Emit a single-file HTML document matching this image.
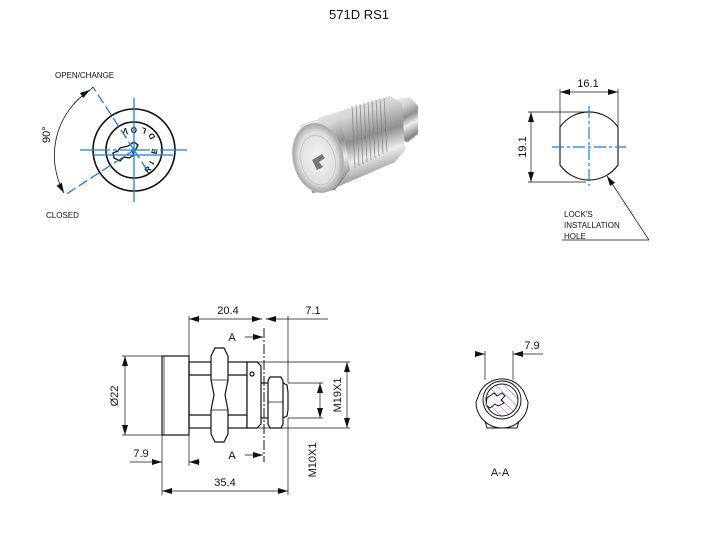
<!DOCTYPE html>
<html><head><meta charset="utf-8"><style>
html,body{margin:0;padding:0;background:#fff}
svg{display:block}
text{font-family:"Liberation Sans",sans-serif;fill:#111}
</style></head><body>
<svg width="720" height="540" viewBox="0 0 720 540" xmlns="http://www.w3.org/2000/svg">
<defs>
<marker id="a" viewBox="0 0 10 6" refX="10" refY="3" markerWidth="10" markerHeight="6" orient="auto-start-reverse" markerUnits="userSpaceOnUse"><path d="M0,0L10,3L0,6z" fill="#111"/></marker>
<linearGradient id="g1" x1="0" y1="0" x2="0.3" y2="1">
<stop offset="0" stop-color="#f6f6f6"/><stop offset="0.3" stop-color="#d4d4d4"/><stop offset="0.55" stop-color="#8f8f8f"/><stop offset="0.75" stop-color="#ececec"/><stop offset="1" stop-color="#8a8a8a"/></linearGradient>
<radialGradient id="g2" cx="0.5" cy="0.5" r="0.5"><stop offset="0" stop-color="#f4f4f4"/><stop offset="0.75" stop-color="#dedede"/><stop offset="1" stop-color="#a5a5a5"/></radialGradient>
<pattern id="h" width="6" height="6" patternUnits="userSpaceOnUse" patternTransform="rotate(-45)"><line x1="0" y1="0" x2="0" y2="6" stroke="#9b4be0" stroke-width="1"/></pattern>
</defs>

<text x="359" y="19" font-size="13" text-anchor="middle">571D RS1</text>

<!-- front view -->
<g fill="none" stroke="#111" stroke-width="1.6">
<circle cx="134" cy="150" r="41"/>
<circle cx="134" cy="150" r="28"/>
<path d="M128,146 l6,-4 4,3 -2,4 -4,2 2,4 -5,3 -5,-1 -4,4 -6,-3 -1,-5 5,-2 2,-3z" stroke-width="1.3"/>
</g>
<g font-size="8" font-weight="bold" fill="#111">
<text x="124" y="132" transform="rotate(180 126 130)">V</text>
<text x="133" y="131" transform="rotate(180 135 129)">O</text>
<text x="142" y="134" transform="rotate(200 144 131)">L</text>
<text x="150" y="140" transform="rotate(240 152 137)">D</text>
<text x="152" y="155" transform="rotate(-80 154 152)">E</text>
<text x="150" y="165" transform="rotate(-60 152 162)">I</text>
<text x="145" y="173" transform="rotate(-45 147 170)">R</text>
</g>
<g stroke="#1a7fe0" stroke-width="1.3" fill="none">
<line x1="134" y1="98" x2="134" y2="202"/>
<line x1="80" y1="150" x2="187" y2="150" stroke-dasharray="30,3,4,3"/>
<line x1="93" y1="155" x2="173" y2="155"/>
<line x1="134" y1="150" x2="93" y2="87" stroke-dasharray="10,4"/>
<line x1="134" y1="150" x2="65" y2="195" stroke-dasharray="10,4"/>
<line x1="134" y1="150" x2="147" y2="170" stroke-dasharray="10,4"/>
</g>
<path d="M90,90 A78,78 0 0 0 64,193" fill="none" stroke="#111" stroke-width="0.8" marker-start="url(#a)" marker-end="url(#a)"/>
<line x1="90" y1="90" x2="93" y2="87" stroke="#111" stroke-width="0.8"/>
<text x="55" y="78" font-size="8">OPEN/CHANGE</text>
<text x="46" y="218" font-size="8">CLOSED</text>
<text x="0" y="0" font-size="11" transform="translate(50,143) rotate(-90)">90°</text>

<!-- photo -->
<g>
<path d="M392,100 L410,97 L418,106 L418,134 L408,142 L400,140z" fill="url(#g1)"/>
<path d="M318,118 L390,96 L402,104 L405,150 L395,162 L330,190 Z" fill="url(#g1)"/>
<g stroke="#777" stroke-width="0.6">
<line x1="352" y1="106" x2="355" y2="168"/><line x1="356" y1="105" x2="359" y2="166"/><line x1="360" y1="104" x2="363" y2="164"/><line x1="364" y1="103" x2="367" y2="162"/><line x1="368" y1="102" x2="371" y2="160"/><line x1="372" y1="101" x2="375" y2="158"/><line x1="376" y1="100" x2="379" y2="156"/><line x1="380" y1="99" x2="383" y2="154"/><line x1="384" y1="98" x2="387" y2="152"/>
</g>
<path d="M300,125 L340,112 L350,170 L335,190 L312,193z" fill="url(#g1)"/>
<ellipse cx="318" cy="158" rx="25" ry="35" transform="rotate(-12 318 158)" fill="url(#g2)" stroke="#b5b5b5" stroke-width="0.6"/>
<ellipse cx="318" cy="160" rx="17" ry="25" transform="rotate(-12 318 160)" fill="none" stroke="#bbb" stroke-width="0.6"/>
<path d="M312,160 l10,-6 3,4 -6,4 4,5 -6,3z" fill="#777"/>
</g>

<!-- installation hole -->
<path d="M560,127 A35.5,35.5 0 0 1 618,127 L618,165 A35.5,35.5 0 0 1 560,165 Z" fill="none" stroke="#111" stroke-width="1.1"/>
<g stroke="#1a7fe0" stroke-width="1.2">
<line x1="589" y1="106" x2="589" y2="186" stroke-dasharray="12,3,3,3"/>
<line x1="552" y1="147" x2="626" y2="147" stroke-dasharray="12,3,3,3"/>
</g>
<g stroke="#111" stroke-width="0.7" fill="none">
<line x1="560" y1="89" x2="560" y2="127"/><line x1="618" y1="89" x2="618" y2="127"/>
<line x1="560" y1="92" x2="618" y2="92" marker-start="url(#a)" marker-end="url(#a)"/>
<line x1="528" y1="112" x2="586" y2="112"/><line x1="528" y1="182" x2="586" y2="182"/>
<line x1="531" y1="112" x2="531" y2="182" marker-start="url(#a)" marker-end="url(#a)"/>
<line x1="649" y1="240" x2="607" y2="176" marker-end="url(#a)"/>
<line x1="562" y1="240" x2="649" y2="240"/>
</g>
<text x="588" y="87" font-size="11" text-anchor="middle">16.1</text>
<text x="0" y="0" font-size="11" text-anchor="middle" transform="translate(526,147) rotate(-90)">19.1</text>
<text x="564" y="217" font-size="8">LOCK'S</text>
<text x="564" y="228" font-size="8">INSTALLATION</text>
<text x="564" y="239" font-size="8">HOLE</text>

<!-- side view -->
<g fill="none" stroke="#111" stroke-width="1.2">
<rect x="162" y="356" width="27" height="79"/>
<line x1="164" y1="356" x2="164" y2="435" stroke-width="0.7"/>
<rect x="189" y="362" width="58" height="66"/>
<line x1="189" y1="375" x2="247" y2="375"/><line x1="189" y1="415" x2="247" y2="415"/>
<path d="M215,348 L224,348 L228,356 L228,380 L225,395 L228,410 L228,434 L224,442 L215,442 L211,434 L211,410 L214,395 L211,380 L211,356 Z" fill="#fff"/>
<line x1="211" y1="380" x2="228" y2="380" stroke-width="0.7"/><line x1="211" y1="410" x2="228" y2="410" stroke-width="0.7"/>
<path d="M247,362 L257,362 L261,366 L261,424 L257,428 L247,428 Z" fill="#fff"/>
<circle cx="252" cy="374" r="2"/>
<line x1="261" y1="383" x2="268" y2="383"/><line x1="261" y1="418" x2="268" y2="418"/>
<path d="M270,377 L281,377 L283,381 L283,424 L281,428 L270,428 L268,424 L268,381 Z" fill="#fff"/>
<line x1="268" y1="402" x2="283" y2="402" stroke-width="0.7"/>
<path d="M283,383 L287,385 L288,392 L288,410 L287,416 L283,418" />
</g>
<line x1="264" y1="328" x2="264" y2="462" stroke="#111" stroke-width="1" stroke-dasharray="10,2,2,2"/>
<g stroke="#111" stroke-width="0.7" fill="none">
<line x1="189" y1="316" x2="189" y2="362"/>
<line x1="189" y1="319" x2="262" y2="319" marker-start="url(#a)" marker-end="url(#a)"/>
<line x1="288" y1="316" x2="288" y2="383"/><line x1="288" y1="418" x2="288" y2="495"/>
<line x1="266" y1="319" x2="288" y2="319" marker-start="url(#a)"/>
<line x1="288" y1="319" x2="328" y2="319"/>
<line x1="245" y1="337" x2="263" y2="337" marker-end="url(#a)"/>
<line x1="245" y1="455" x2="263" y2="455" marker-end="url(#a)"/>
<line x1="122" y1="356" x2="162" y2="356"/><line x1="122" y1="435" x2="162" y2="435"/>
<line x1="125" y1="356" x2="125" y2="435" marker-start="url(#a)" marker-end="url(#a)"/>
<line x1="247" y1="362" x2="350" y2="362"/><line x1="247" y1="428" x2="350" y2="428"/>
<line x1="347" y1="362" x2="347" y2="428" marker-start="url(#a)" marker-end="url(#a)"/>
<line x1="288" y1="383" x2="323" y2="383"/><line x1="288" y1="418" x2="323" y2="418"/>
<line x1="320" y1="383" x2="320" y2="418" marker-start="url(#a)" marker-end="url(#a)"/>
<line x1="162" y1="435" x2="162" y2="495"/><line x1="189" y1="428" x2="189" y2="466"/>
<line x1="130" y1="462" x2="162" y2="462" marker-end="url(#a)"/>
<line x1="189" y1="462" x2="200" y2="462" marker-start="url(#a)"/>
<line x1="162" y1="491" x2="288" y2="491" marker-start="url(#a)" marker-end="url(#a)"/>
</g>
<text x="228" y="314" font-size="11" text-anchor="middle">20.4</text>
<text x="313" y="314" font-size="11" text-anchor="middle">7.1</text>
<text x="232" y="341" font-size="11" text-anchor="middle">A</text>
<text x="232" y="459" font-size="11" text-anchor="middle">A</text>
<text x="0" y="0" font-size="11" text-anchor="middle" transform="translate(118,396) rotate(-90)">Ø22</text>
<text x="0" y="0" font-size="11" text-anchor="middle" transform="translate(341,395) rotate(-90)">M19X1</text>
<text x="0" y="0" font-size="11" text-anchor="middle" transform="translate(316,460) rotate(-90)">M10X1</text>
<text x="141" y="457" font-size="11" text-anchor="middle">7.9</text>
<text x="225" y="486" font-size="11" text-anchor="middle">35.4</text>

<!-- A-A section -->
<g fill="none" stroke="#111" stroke-width="1">
<path d="M480,392 A25,25 0 0 1 524,392 L528,402 A25,25 0 0 1 476,402 Z" fill="#fff"/>
<path d="M485,421 L487,428 L517,428 L519,421" />
<circle cx="502" cy="400" r="19"/>
<circle cx="502" cy="400" r="16" fill="url(#h)"/>
<path d="M487,398 l7,-5 3,3 5,-3 3,3 -4,4 3,3 -6,3 -3,-2 -5,4 -4,-3z" fill="#fff" stroke-width="0.9"/>
</g>
<g stroke="#111" stroke-width="0.7" fill="none">
<line x1="485" y1="351" x2="485" y2="380"/><line x1="513" y1="351" x2="513" y2="380"/>
<line x1="475" y1="354" x2="485" y2="354" marker-end="url(#a)"/>
<line x1="543" y1="354" x2="513" y2="354" marker-end="url(#a)"/>
</g>
<text x="532" y="349" font-size="11" text-anchor="middle">7.9</text>
<text x="500" y="476" font-size="11" text-anchor="middle">A-A</text>
</svg>
</body></html>
